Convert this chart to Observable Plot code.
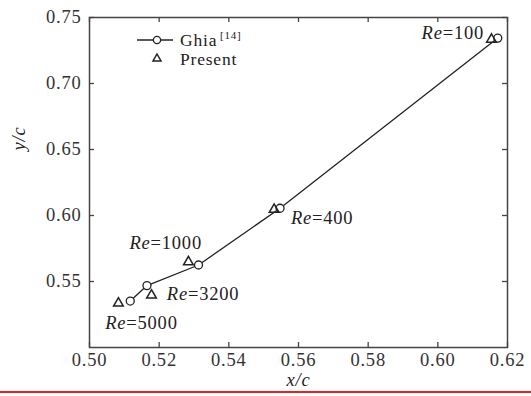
<!DOCTYPE html>
<html>
<head>
<meta charset="utf-8">
<script src="https://cdn.jsdelivr.net/npm/d3@7"></script>
<script src="https://cdn.jsdelivr.net/npm/@observablehq/plot@0.6"></script>
<style>
  html, body { margin: 0; padding: 0; background: #fff; }
  #wrap { position: relative; width: 531px; height: 396px; overflow: hidden; background: #fff; }
  #legend { position: absolute; left: 0; top: 0; }
  #redline { position: absolute; left: 0; top: 391px; width: 531px; height: 2px; background: #ee1c24; }
  svg text { letter-spacing: 0.8px; }
</style>
</head>
<body>
<div id="wrap">
  <div id="chart"></div>
  <svg id="legend" width="531" height="100" font-family="'Liberation Serif', 'Times New Roman', serif" fill="#222">
    <line x1="137" y1="40" x2="173" y2="40" stroke="#222" stroke-width="1.3"></line>
    <circle cx="157" cy="40" r="3.6" fill="#fff" stroke="#222" stroke-width="1.3"></circle>
    <text x="180" y="45.5" font-size="17.5">Ghia</text>
    <text x="220" y="39" font-size="11">[14]</text>
    <path d="M157,54 L161,61 L153,61 Z" fill="none" stroke="#222" stroke-width="1.5"></path>
    <text x="180" y="65" font-size="17.5" letter-spacing="1.2">Present</text>
  </svg>
  <div id="redline"></div>
</div>
<script>
// Reynolds numbers of the cases
const reynolds = [100, 400, 1000, 3200, 5000];
// Ghia [14] primary vortex centre
const ghiaX = [0.6172, 0.5547, 0.5313, 0.5165, 0.5117];
const ghiaY = [0.7344, 0.6055, 0.5625, 0.5469, 0.5352];
// Present results
const presentX = [0.6154, 0.5530, 0.5284, 0.5178, 0.5083];
const presentY = [0.7334, 0.6045, 0.5648, 0.5396, 0.5335];
// Axis ticks
const xTicks = [0.50, 0.52, 0.54, 0.56, 0.58, 0.60, 0.62];
const yTicks = [0.55, 0.60, 0.65, 0.70, 0.75];

// label placement (pixel offsets from the Ghia point)
const labelOffsets = [[-55, -5], [32, 10], [-48, -22], [41, 8], [-4, 22]];

const idx = reynolds.map((_, i) => i);
const W = 531, H = 391, mL = 89, mR = 24, mT = 17, mB = 44;
const innerW = W - mL - mR, innerH = H - mT - mB;
const tick = 5;
const ink = "#222";
const fs = 18.5;

const labelMarks = [];
idx.forEach(i => {
  const [dx, dy] = labelOffsets[i];
  labelMarks.push(Plot.text([i], {x: j => ghiaX[j], y: j => ghiaY[j], text: () => "Re",
    dx, dy, textAnchor: "end", fontStyle: "italic", fontSize: fs, fill: ink}));
  labelMarks.push(Plot.text([i], {x: j => ghiaX[j], y: j => ghiaY[j], text: j => "=" + reynolds[j],
    dx, dy, textAnchor: "start", fontSize: fs, fill: ink}));
});

const chart = Plot.plot({
  width: W, height: H,
  marginLeft: mL, marginRight: mR, marginTop: mT, marginBottom: mB,
  style: {fontFamily: "'Liberation Serif', 'Times New Roman', serif", fontSize: fs + "px", color: ink, background: "transparent"},
  x: {domain: [0.50, 0.62]},
  y: {domain: [0.50, 0.75]},
  marks: [
    Plot.frame({stroke: "#444", strokeWidth: 1.5}),
    Plot.ruleX(xTicks, {insetTop: innerH - tick, stroke: "#444", strokeWidth: 1.3}),
    Plot.ruleX(xTicks, {insetBottom: innerH - tick, stroke: "#444", strokeWidth: 1.3}),
    Plot.ruleY(yTicks, {insetRight: innerW - tick, stroke: "#444", strokeWidth: 1.3}),
    Plot.ruleY(yTicks, {insetLeft: innerW - tick, stroke: "#444", strokeWidth: 1.3}),
    Plot.axisX(xTicks, {tickSize: 0, tickPadding: 5, tickFormat: d3.format(".2f"), label: null, fill: "#333", fontSize: fs}),
    Plot.axisY(yTicks, {tickSize: 0, tickPadding: 8, tickFormat: d3.format(".2f"), label: null, fill: "#333", fontSize: fs}),
    Plot.text(["x/c"], {frameAnchor: "bottom", dy: 38, fontStyle: "italic", fontSize: fs, fill: ink}),
    Plot.text(["y/c"], {frameAnchor: "left", dx: -70, dy: -32, rotate: -90, fontStyle: "italic", fontSize: fs, fill: ink}),
    Plot.line(idx, {x: i => ghiaX[i], y: i => ghiaY[i], stroke: ink, strokeWidth: 1.3}),
    Plot.dot(idx, {x: i => ghiaX[i], y: i => ghiaY[i], r: 4, stroke: ink, fill: "#fff", strokeWidth: 1.3}),
    Plot.dot(idx, {x: i => presentX[i], y: i => presentY[i], symbol: "triangle", r: 3.6, stroke: ink, fill: "none", strokeWidth: 1.5}),
    ...labelMarks
  ]
});
document.getElementById("chart").appendChild(chart);
</script>
</body>
</html>
